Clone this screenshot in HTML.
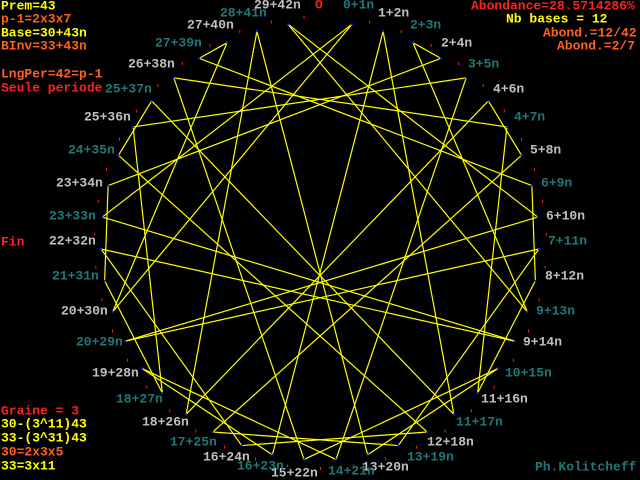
<!DOCTYPE html>
<html><head><meta charset="utf-8">
<style>
html,body{margin:0;padding:0;background:#000;}
body{width:640px;height:480px;overflow:hidden;position:relative;}
svg{position:absolute;left:0;top:0;}
text{font-family:"Liberation Mono",monospace;font-size:13px;font-weight:bold;dominant-baseline:middle;}
</style></head><body>
<svg id="s" width="640" height="480" viewBox="0 0 640 480" xmlns="http://www.w3.org/2000/svg">
<g id="lines" stroke="#ffff00" stroke-width="1.2" fill="none"></g>
<g id="dots"></g>
<g id="labs"></g>
<text x="1" y="6" fill="#ffff00">Prem=43</text>
<text x="1" y="19" fill="#ff6020">p-1=2x3x7</text>
<text x="1" y="33" fill="#ffff00">Base=30+43n</text>
<text x="1" y="46" fill="#ff6020">BInv=33+43n</text>
<text x="1" y="74" fill="#ff6020">LngPer=42=p-1</text>
<text x="1" y="88" fill="#ff2020">Seule periode</text>
<text x="1" y="242" fill="#ff2020">Fin</text>
<text x="1" y="411" fill="#ff2020">Graine = 3</text>
<text x="1" y="424" fill="#ffff00">30-(3^11)43</text>
<text x="1" y="438" fill="#ffff00">33-(3^31)43</text>
<text x="1" y="452" fill="#ff6020">30=2x3x5</text>
<text x="1" y="466" fill="#ffff00">33=3x11</text>
<text x="471" y="6" fill="#ff2020">Abondance=28.5714286%</text>
<text x="506" y="19" fill="#ffff00">Nb bases = 12</text>
<text x="543" y="33" fill="#ff6020">Abond.=12/42</text>
<text x="557" y="46" fill="#ff6020">Abond.=2/7</text>
<text x="535" y="467" fill="#207878">Ph.Kolitcheff</text>
<text x="315" y="5" fill="#ff2020">O</text>
</svg>
<script>
(function(){
var NS="http://www.w3.org/2000/svg";
var cx=320,cy=241,R=219;
function P(i){var a=i*2*Math.PI/43;return [cx+R*Math.sin(a),cy-R*Math.cos(a)];}
var L=document.getElementById("lines"),D=document.getElementById("dots"),T=document.getElementById("labs");
var x=1;
for(var k=0;k<42;k++){var y=(x*30)%43;var a=P(x),b=P(y);
var l=document.createElementNS(NS,"line");l.setAttribute("x1",a[0]);l.setAttribute("y1",a[1]);l.setAttribute("x2",b[0]);l.setAttribute("y2",b[1]);L.appendChild(l);x=y;}
for(var i=1;i<43;i++){var p=P(i);var r=document.createElementNS(NS,"rect");r.setAttribute("x",p[0]-1);r.setAttribute("y",p[1]-1);r.setAttribute("width",2);r.setAttribute("height",2);r.setAttribute("fill","#2020ff");D.appendChild(r);
var q=[cx+226*Math.sin((i+0.5)*2*Math.PI/43),cy-226*Math.cos((i+0.5)*2*Math.PI/43)];
var t=document.createElementNS(NS,"rect");t.setAttribute("x",q[0]);t.setAttribute("y",q[1]);t.setAttribute("width",1);t.setAttribute("height",3);t.setAttribute("fill","#ff2020");D.appendChild(t);}
var labs=[["0+1n",343,5],["1+2n",378,13],["2+3n",410,25],["2+4n",441,43],["3+5n",468,64],["4+6n",493,89],["4+7n",514,117],["5+8n",530,150],["6+9n",541,183],["6+10n",546,216],["7+11n",548,241],["8+12n",545,276],["9+13n",536,311],["9+14n",523,342],["10+15n",505,373],["11+16n",481,399],["11+17n",456,422],["12+18n",427,442],["13+19n",407,457],["13+20n",362,467],["14+21n",328,471],["15+22n",271,473],["16+23n",237,466],["16+24n",203,457],["17+25n",170,442],["18+26n",142,422],["18+27n",116,399],["19+28n",92,373],["20+29n",76,342],["20+30n",61,311],["21+31n",52,276],["22+32n",49,241],["23+33n",49,216],["23+34n",56,183],["24+35n",68,150],["25+36n",84,117],["25+37n",105,89],["26+38n",128,64],["27+39n",155,43],["27+40n",187,25],["28+41n",220,13],["29+42n",254,5]];
for(var j=0;j<labs.length;j++){var e=document.createElementNS(NS,"text");e.setAttribute("x",labs[j][1]);e.setAttribute("y",labs[j][2]);e.setAttribute("fill",(j%2==0)?"#207878":"#c0c0c0");e.textContent=labs[j][0];T.appendChild(e);}
})();
</script>
</body></html>
